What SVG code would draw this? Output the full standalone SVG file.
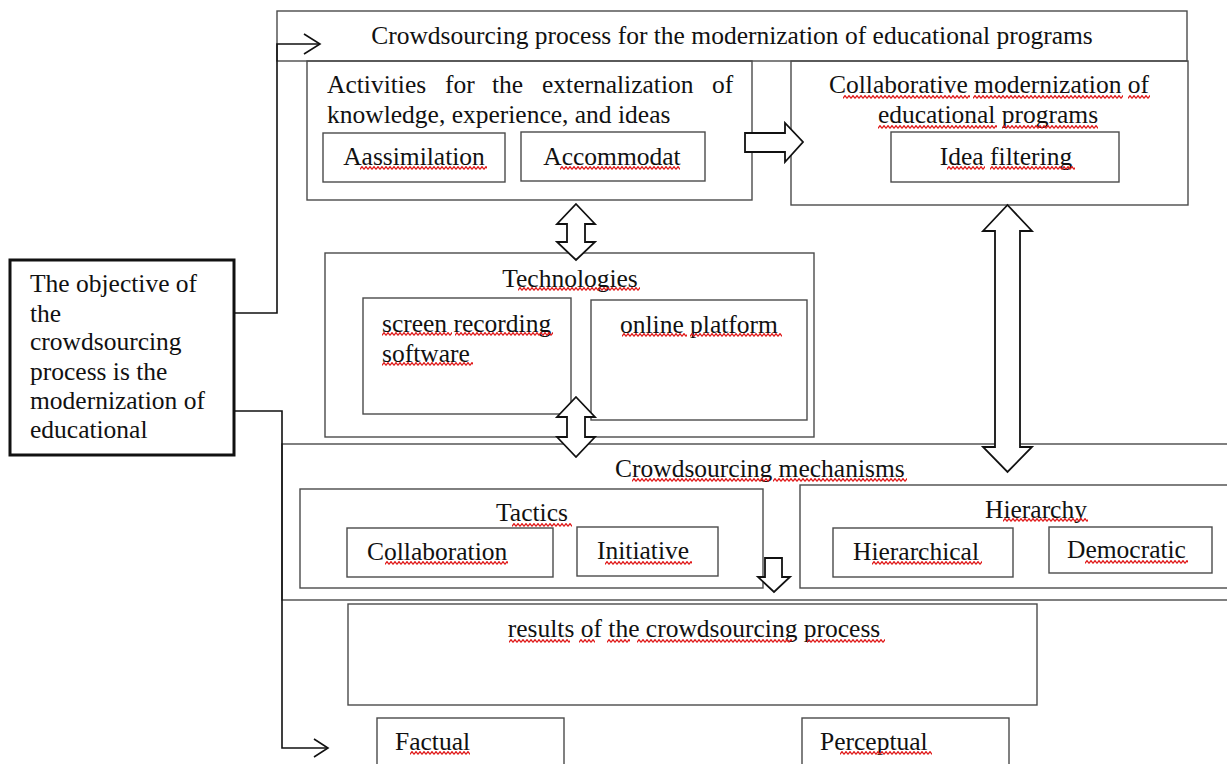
<svg xmlns="http://www.w3.org/2000/svg" width="1227" height="764" viewBox="0 0 1227 764">
<defs>
<style>
.bx{fill:none;stroke:#4a4a4a;stroke-width:1.4}
.t{font-family:"Liberation Serif","Times New Roman",serif;font-size:25.5px;fill:#111}
.c{text-anchor:middle}
.ln{fill:none;stroke:#111;stroke-width:1.6}
.ba{fill:#fff;stroke:#111;stroke-width:1.8;stroke-linejoin:miter}
.sp{fill:url(#wave)}
</style>
<pattern id="wave" width="4" height="4" patternUnits="userSpaceOnUse">
<path d="M0 3.4 L2 0.6 L4 3.4" fill="none" stroke="#e01818" stroke-width="1.2"/>
</pattern>
</defs>
<rect width="1227" height="764" fill="#fff"/>

<g id="top-process">
<rect class="bx" x="277" y="11" width="910" height="50"/>
<text class="t c" x="732" y="44">Crowdsourcing process for the modernization of educational programs</text>
</g>

<g id="activities">
<rect class="bx" x="307" y="61" width="445" height="139"/>
<text class="t" y="93"><tspan x="327">Activities</tspan><tspan x="445">for</tspan><tspan x="492">the</tspan><tspan x="542">externalization</tspan><tspan x="712">of</tspan></text>
<text class="t" x="327" y="123">knowledge, experience, and ideas</text>
</g>
<g id="assimilation">
<rect class="bx" x="323" y="133" width="182" height="49"/>
<text class="t c" x="414" y="165">Aassimilation</text>
</g>
<g id="accommodat">
<rect class="bx" x="521" y="132" width="184" height="49"/>
<text class="t c" x="612" y="165">Accommodat</text>
</g>

<g id="collaborative">
<rect class="bx" x="791" y="61" width="397" height="144"/>
<text class="t c" x="989" y="93">Collaborative modernization of</text>
<text class="t c" x="988" y="123">educational programs</text>
</g>
<g id="idea-filtering">
<rect class="bx" x="891" y="132" width="228" height="50"/>
<text class="t c" x="1006" y="165">Idea filtering</text>
</g>

<g id="objective">
<rect x="10" y="260" width="224" height="195" fill="#fff" stroke="#111" stroke-width="3"/>
<text class="t" x="30" y="292">The objective of</text>
<text class="t" x="30" y="322">the</text>
<text class="t" x="30" y="350">crowdsourcing</text>
<text class="t" x="30" y="380">process is the</text>
<text class="t" x="30" y="409">modernization of</text>
<text class="t" x="30" y="438">educational</text>
</g>

<g id="technologies">
<rect class="bx" x="325" y="253" width="489" height="184"/>
<text class="t c" x="570" y="287">Technologies</text>
</g>
<g id="screen-recording">
<rect class="bx" x="363" y="298" width="208" height="116"/>
<text class="t" x="382" y="332">screen recording</text>
<text class="t" x="382" y="362">software</text>
</g>
<g id="online-platform">
<rect class="bx" x="591" y="300" width="216" height="120"/>
<text class="t" x="620" y="333">online platform</text>
</g>

<g id="mechanisms">
<rect class="bx" x="282" y="444" width="960" height="156"/>
<text class="t" x="615" y="477">Crowdsourcing mechanisms</text>
</g>
<g id="tactics">
<rect class="bx" x="300" y="489" width="463" height="99"/>
<text class="t c" x="532" y="521">Tactics</text>
</g>
<g id="collaboration">
<rect class="bx" x="347" y="528" width="206" height="49"/>
<text class="t" x="367" y="560">Collaboration</text>
</g>
<g id="initiative">
<rect class="bx" x="577" y="527" width="141" height="49"/>
<text class="t" x="597" y="559">Initiative</text>
</g>
<g id="hierarchy">
<rect class="bx" x="800" y="485" width="440" height="103"/>
<text class="t" x="985" y="518">Hierarchy</text>
</g>
<g id="hierarchical">
<rect class="bx" x="833" y="528" width="180" height="49"/>
<text class="t" x="853" y="560">Hierarchical</text>
</g>
<g id="democratic">
<rect class="bx" x="1049" y="527" width="163" height="46"/>
<text class="t" x="1067" y="558">Democratic</text>
</g>

<g id="results">
<rect class="bx" x="348" y="604" width="689" height="101"/>
<text class="t c" x="694" y="637">results of the crowdsourcing process</text>
</g>
<g id="factual">
<rect class="bx" x="377" y="718" width="187" height="60"/>
<text class="t" x="395" y="750">Factual</text>
</g>
<g id="perceptual">
<rect class="bx" x="802" y="718" width="207" height="60"/>
<text class="t" x="820" y="750">Perceptual</text>
</g>

<g id="connectors">
<polyline class="ln" points="235,313 277,313 277,44 320,44"/>
<polyline class="ln" points="304,34 320,44 304,54"/>
<polyline class="ln" points="235,411 282,411 282,748 328,748"/>
<polyline class="ln" points="314,739 328,748 314,757"/>
<polygon class="ba" points="745,133 785,133 785,123 803,142 785,162 785,152 745,152"/>
<polygon class="ba" points="576,204 595,224 585,224 585,242 595,242 576,260 557,242 567,242 567,224 557,224"/>
<polygon class="ba" points="576,397 595,417 585,417 585,437 595,437 576,457 557,437 567,437 567,417 557,417"/>
<polygon class="ba" points="1007.5,205 1032,231 1020,231 1020,447 1032,447 1007.5,472 983,447 995,447 995,231 983,231"/>
<polygon class="ba" points="765,558 782,558 782,577 790,577 774,592 758,577 765,577"/>
</g>

<g id="spellcheck-marks">
<rect class="sp" transform="translate(360,166)" width="127" height="4"/>
<rect class="sp" transform="translate(560,166)" width="120" height="4"/>
<rect class="sp" transform="translate(843,95)" width="127" height="4"/>
<rect class="sp" transform="translate(973,95)" width="150" height="4"/>
<rect class="sp" transform="translate(1128,95)" width="22" height="4"/>
<rect class="sp" transform="translate(878,125)" width="119" height="4"/>
<rect class="sp" transform="translate(1002,125)" width="96" height="4"/>
<rect class="sp" transform="translate(947,166)" width="38" height="4"/>
<rect class="sp" transform="translate(990,166)" width="85" height="4"/>
<rect class="sp" transform="translate(518,287)" width="122" height="4"/>
<rect class="sp" transform="translate(382,332)" width="70" height="4"/>
<rect class="sp" transform="translate(455,332)" width="98" height="4"/>
<rect class="sp" transform="translate(382,362)" width="91" height="4"/>
<rect class="sp" transform="translate(622,333)" width="65" height="4"/>
<rect class="sp" transform="translate(690,333)" width="92" height="4"/>
<rect class="sp" transform="translate(632,478)" width="138" height="4"/>
<rect class="sp" transform="translate(773,478)" width="134" height="4"/>
<rect class="sp" transform="translate(512,523)" width="60" height="4"/>
<rect class="sp" transform="translate(385,561)" width="123" height="4"/>
<rect class="sp" transform="translate(605,561)" width="87" height="4"/>
<rect class="sp" transform="translate(1003,518)" width="85" height="4"/>
<rect class="sp" transform="translate(872,561)" width="110" height="4"/>
<rect class="sp" transform="translate(1085,560)" width="103" height="4"/>
<rect class="sp" transform="translate(509,639)" width="61" height="4"/>
<rect class="sp" transform="translate(579,639)" width="16" height="4"/>
<rect class="sp" transform="translate(607,639)" width="23" height="4"/>
<rect class="sp" transform="translate(637,639)" width="155" height="4"/>
<rect class="sp" transform="translate(807,639)" width="78" height="4"/>
<rect class="sp" transform="translate(410,751)" width="60" height="4"/>
<rect class="sp" transform="translate(840,751)" width="92" height="4"/>
</g>
</svg>
